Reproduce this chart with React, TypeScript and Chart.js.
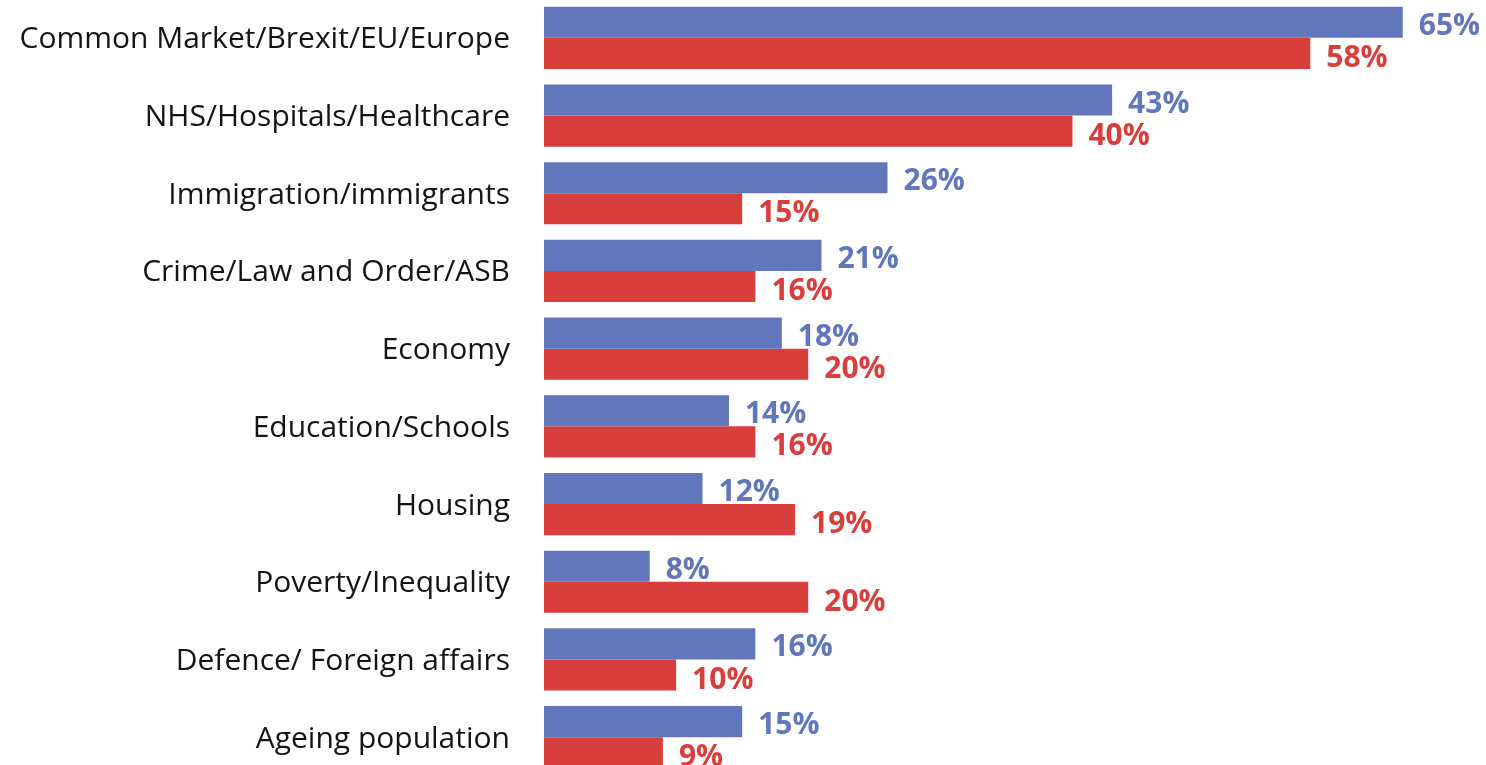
import React, { useEffect, useRef } from "react";
import { Chart, registerables } from "chart.js";

Chart.register(...registerables);

const categories = [
  "Common Market/Brexit/EU/Europe",
  "NHS/Hospitals/Healthcare",
  "Immigration/immigrants",
  "Crime/Law and Order/ASB",
  "Economy",
  "Education/Schools",
  "Housing",
  "Poverty/Inequality",
  "Defence/ Foreign affairs",
  "Ageing population",
];
const blueValues = [65, 43, 26, 21, 18, 14, 12, 8, 16, 15];
const redValues = [58, 40, 15, 16, 20, 16, 19, 20, 10, 9];

const BLUE = "#6277BB";
const RED = "#D83E3C";
const FONT = "'Open Sans', 'Noto Sans', sans-serif";

const labelPlugin = {
  id: "barLabels",
  afterDatasetsDraw(chart: any) {
    const ctx = chart.ctx;
    ctx.save();
    ctx.font = `bold 30px ${FONT}`;
    ctx.textAlign = "left";
    ctx.textBaseline = "middle";
    chart.data.datasets.forEach((ds: any, i: number) => {
      const meta = chart.getDatasetMeta(i);
      ctx.fillStyle = ds.backgroundColor;
      meta.data.forEach((el: any, j: number) => {
        ctx.fillText(`${ds.data[j]}%`, el.x + 16, el.y + (i === 1 ? 5 : 4));
      });
    });
    ctx.restore();
  },
};

export default function App() {
  const ref = useRef<HTMLCanvasElement>(null);
  useEffect(() => {
    if (!ref.current) return;
    const chart = new Chart(ref.current, {
      type: "bar",
      data: {
        labels: categories,
        datasets: [
          { data: blueValues, backgroundColor: BLUE, borderWidth: 0 },
          { data: redValues, backgroundColor: RED, borderWidth: 0 },
        ],
      },
      options: {
        indexAxis: "y",
        animation: false,
        responsive: true,
        maintainAspectRatio: false,
        layout: { padding: 0 },
        datasets: { bar: { categoryPercentage: 0.8, barPercentage: 1.0 } },
        plugins: { legend: { display: false }, tooltip: { enabled: false } },
        scales: {
          x: {
            display: false,
            min: 0,
            max: 71.3,
          },
          y: {
            grid: { display: false, drawTicks: false },
            border: { display: false },
            ticks: {
              padding: 34,
              labelOffset: 2,
              color: "#141414",
              font: { family: FONT, size: 30 },
            },
            afterFit(scale: any) {
              scale.width = 544;
              scale.paddingTop = 0;
              scale.paddingBottom = 0;
            },
          },
        },
      },
      plugins: [labelPlugin],
    });
    return () => chart.destroy();
  }, []);
  return (
    <div style={{ position: "fixed", left: 0, top: -1, width: 1486, height: 777 }}>
      <canvas ref={ref} />
    </div>
  );
}
